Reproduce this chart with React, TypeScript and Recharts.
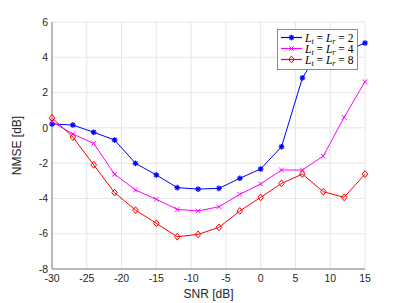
import React from 'react';
import { LineChart, Line, XAxis, YAxis, CartesianGrid } from 'recharts';

const snr = [-30, -27, -24, -21, -18, -15, -12, -9, -6, -3, 0, 3, 6, 9, 12, 15];
const nmseL2 = [0.22, 0.16, -0.25, -0.69, -2.01, -2.67, -3.39, -3.47, -3.43, -2.86, -2.33, -1.07, 2.83, 4.7, 4.3, 4.81];
const nmseL4 = [0.35, -0.35, -0.88, -2.63, -3.52, -4.05, -4.62, -4.71, -4.47, -3.77, -3.18, -2.39, -2.39, -1.6, 0.6, 2.62];
const nmseL8 = [0.57, -0.52, -2.1, -3.67, -4.66, -5.41, -6.17, -6.04, -5.64, -4.71, -3.94, -3.15, -2.62, -3.62, -3.94, -2.62];
const legendSuffixes = ['2', '4', '8'];

const xTicks = [-30, -25, -20, -15, -10, -5, 0, 5, 10, 15];
const yTicks = [-8, -6, -4, -2, 0, 2, 4, 6];

const data = snr.map((s, i) => ({ snr: s, l2: nmseL2[i], l4: nmseL4[i], l8: nmseL8[i] }));

const BLUE = '#0000ff';
const MAGENTA = '#ff00ff';
const RED = '#ff0000';

const Star = ({ cx, cy, color }: any) => {
    if (cx == null || cy == null) return null;
    const r = 2.8;
    const d = r * 0.707;
    return (
        <g stroke={color} strokeWidth={1.3}>
            <line x1={cx - r} y1={cy} x2={cx + r} y2={cy} />
            <line x1={cx} y1={cy - r} x2={cx} y2={cy + r} />
            <line x1={cx - d} y1={cy - d} x2={cx + d} y2={cy + d} />
            <line x1={cx - d} y1={cy + d} x2={cx + d} y2={cy - d} />
        </g>
    );
};

const Cross = ({ cx, cy, color }: any) => {
    if (cx == null || cy == null) return null;
    const r = 2.3;
    return (
        <g stroke={color} strokeWidth={1}>
            <line x1={cx - r} y1={cy - r} x2={cx + r} y2={cy + r} />
            <line x1={cx - r} y1={cy + r} x2={cx + r} y2={cy - r} />
        </g>
    );
};

const Diamond = ({ cx, cy, color }: any) => {
    if (cx == null || cy == null) return null;
    const w = 2.8;
    const h = 3.4;
    return (
        <path
            d={`M${cx},${cy - h} L${cx + w},${cy} L${cx},${cy + h} L${cx - w},${cy} Z`}
            fill="none"
            stroke={color}
            strokeWidth={1}
        />
    );
};

const series = [
    { key: 'l2', color: BLUE, Marker: Star },
    { key: 'l4', color: MAGENTA, Marker: Cross },
    { key: 'l8', color: RED, Marker: Diamond },
];

const LegendBox = () => (
    <svg width={81} height={41} style={{ display: 'block' }}>
        <rect x={0.5} y={0.5} width={80} height={40} fill="#fff" stroke="#8c8c8c" strokeWidth={1} />
        {series.map((s, i) => {
            const y = 8.5 + i * 11;
            const M = s.Marker;
            return (
                <g key={s.key}>
                    <line x1={4} y1={y} x2={25} y2={y} stroke={s.color} strokeWidth={1.2} />
                    <M cx={14.5} cy={y} color={s.color} />
                    <text x={28} y={y + 4} fontFamily="'Liberation Serif', serif" fontSize={11.5} fill="#000">
                        <tspan fontStyle="italic">L</tspan>
                        <tspan fontStyle="italic" fontSize={8} dy={2}>t</tspan>
                        <tspan dy={-2}> = </tspan>
                        <tspan fontStyle="italic">L</tspan>
                        <tspan fontStyle="italic" fontSize={8} dy={2}>r</tspan>
                        <tspan dy={-2}> = {legendSuffixes[i]}</tspan>
                    </text>
                </g>
            );
        })}
    </svg>
);

const tickStyle = { fontSize: 10.5, fill: '#262626', fontFamily: "'Liberation Sans', Arial, sans-serif" };

export default function App() {
    return (
        <div style={{ position: 'absolute', left: 0, top: 0, width: 403, height: 303, background: '#fff' }}>
            <LineChart width={403} height={303} data={data} margin={{ top: 22, right: 38, left: 0, bottom: 0 }}>
                <CartesianGrid stroke="#e6e6e6" horizontalValues={yTicks} verticalValues={xTicks} />
                <XAxis
                    dataKey="snr"
                    type="number"
                    domain={[-30, 15]}
                    ticks={xTicks}
                    height={34}
                    tickLine={false}
                    tickSize={0}
                    tickMargin={6}
                    stroke="#808080"
                    tick={tickStyle}
                    label={{ value: 'SNR [dB]', position: 'insideBottom', offset: 5, fontSize: 12, fill: '#262626', fontFamily: "'Liberation Sans', Arial, sans-serif" }}
                />
                <YAxis
                    type="number"
                    domain={[-8, 6]}
                    ticks={yTicks}
                    width={52}
                    tickLine={false}
                    tickSize={0}
                    tickMargin={4}
                    stroke="#808080"
                    tick={tickStyle}
                    label={{ value: 'NMSE [dB]', angle: -90, position: 'insideLeft', offset: 17, style: { textAnchor: 'middle' }, fontSize: 12, fill: '#262626', fontFamily: "'Liberation Sans', Arial, sans-serif" }}
                />
                {series.map((s) => {
                    const M = s.Marker;
                    return (
                        <Line
                            key={s.key}
                            dataKey={s.key}
                            stroke={s.color}
                            strokeWidth={1}
                            isAnimationActive={false}
                            dot={(p: any) => <M key={p.index} cx={p.cx} cy={p.cy} color={s.color} />}
                            activeDot={false}
                            type="linear"
                        />
                    );
                })}
            </LineChart>
            <div style={{ position: 'absolute', left: 277, top: 29 }}>
                <LegendBox />
            </div>
        </div>
    );
}
